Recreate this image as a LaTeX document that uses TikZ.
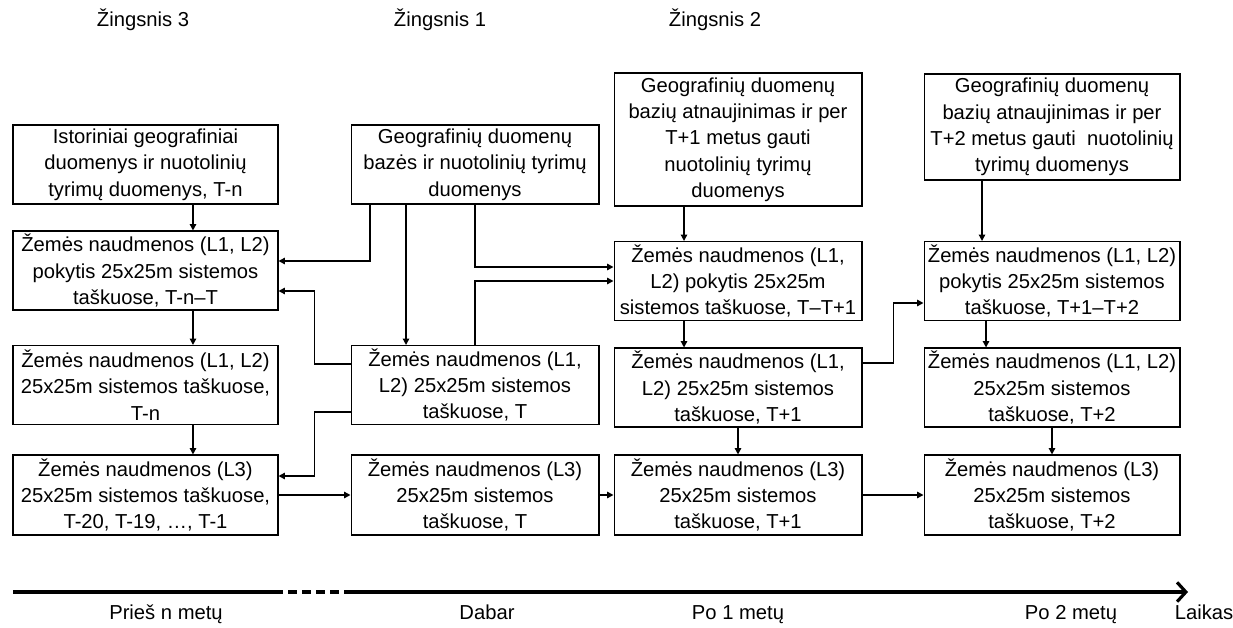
\documentclass[tikz,border=0pt]{standalone}
\usepackage{fontspec}
\setmainfont{Liberation Sans}
\usetikzlibrary{calc,arrows.meta,positioning}
\tikzset{box/.style={draw, line width=0.6pt, rectangle, align=center, inner sep=0pt, minimum height=1.58cm, text=black, font=\fontsize{11.5}{15}\selectfont},
  cA/.style={box, minimum width=5.3cm}, cB/.style={box, minimum width=4.96cm}, cC/.style={box, minimum width=4.96cm}, cD/.style={box, minimum width=5.12cm},
  arr/.style={line width=0.8pt, -{Triangle[length=3.6pt,width=3.6pt]}},
  lbl/.style={font=\fontsize{11.5}{15}\selectfont, inner sep=0pt, anchor=base},
  timeline/.style={line width=1.8pt}}

\begin{document}
\begin{tikzpicture}[x=0.02cm, y=-0.02cm]
    \useasboundingbox (0,0) rectangle (1233,628);
    \node[lbl] (H3) at (143,27) {Žingsnis 3};
    \node[lbl] (H1) at (440,27) {Žingsnis 1};
    \node[lbl] (H2) at (715,27) {Žingsnis 2};

    \node[cA] (A1) at (145.5,164.5) {Istoriniai geografiniai\\duomenys ir nuotolinių\\tyrimų duomenys, T-n};
    \node[cA] (A2) at (145.5,270.5) {Žemės naudmenos (L1, L2)\\pokytis 25x25m sistemos\\taškuose, T-n–T};
    \node[cA] (A3) at (145.5,385) {Žemės naudmenos (L1, L2)\\25x25m sistemos taškuose,\\T-n};
    \node[cA,minimum height=1.6cm] (A4) at (145.5,495) {Žemės naudmenos (L3)\\25x25m sistemos taškuose,\\T-20, T-19, …, T-1};

    \node[cB] (B1) at (475,164.5) {Geografinių duomenų\\bazės ir nuotolinių tyrimų\\duomenys};
    \node[cB] (B2) at (475,385) {Žemės naudmenos (L1,\\L2) 25x25m sistemos\\taškuose, T};
    \node[cB,minimum height=1.6cm] (B3) at (475,495) {Žemės naudmenos (L3)\\25x25m sistemos\\taškuose, T};

    \node[cC,minimum height=2.66cm] (C1) at (738,139.5) {Geografinių duomenų\\bazių atnaujinimas ir per\\T+1 metus gauti\\nuotolinių tyrimų\\duomenys};
    \node[cC] (C2) at (738,281) {Žemės naudmenos (L1,\\L2) pokytis 25x25m\\sistemos taškuose, T–T+1};
    \node[cC] (C3) at (738,387.5) {Žemės naudmenos (L1,\\L2) 25x25m sistemos\\taškuose, T+1};
    \node[cC,minimum height=1.6cm] (C4) at (738,495) {Žemės naudmenos (L3)\\25x25m sistemos\\taškuose, T+1};

    \node[cD,minimum height=2.12cm] (D1) at (1052,127) {Geografinių duomenų\\bazių atnaujinimas ir per\\T+2 metus gauti\ \ nuotolinių\\tyrimų duomenys};
    \node[cD] (D2) at (1052,281) {Žemės naudmenos (L1, L2)\\pokytis 25x25m sistemos\\taškuose, T+1–T+2};
    \node[cD] (D3) at (1052,387.5) {Žemės naudmenos (L1, L2)\\25x25m sistemos\\taškuose, T+2};
    \node[cD,minimum height=1.6cm] (D4) at (1052,495) {Žemės naudmenos (L3)\\25x25m sistemos\\taškuose, T+2};

    \draw[arr] ([xshift=0.95cm]A1.south) -- ([xshift=0.95cm]A2.north);
    \draw[arr] ([xshift=0.95cm]A2.south) -- ([xshift=0.95cm]A3.north);
    \draw[arr] ([xshift=0.95cm]A3.south) -- ([xshift=0.95cm]A4.north);
    \draw[arr] ([xshift=-2.1cm]B1.south) |- ([yshift=0.19cm]A2.east);
    \draw[arr] ([yshift=0.42cm]B2.west) -- ++(-36,0) |- ([yshift=-0.41cm]A2.east);
    \draw[arr] ([yshift=-0.54cm]B2.west) -- ++(-36,0) |- ([yshift=0.38cm]A4.east);
    \draw[arr] ([xshift=-1.38cm]B1.south) -- ([xshift=-1.38cm]B2.north);
    \draw[arr] (B1.south) |- ([yshift=0.28cm]C2.west);
    \draw[arr] (B2.north) |- (C2.west);
    \draw[arr] (A4.east) -- (B3.west);
    \draw[arr] (B3.east) -- (C4.west);
    \draw[arr] (C4.east) -- (D4.west);
    \draw[arr] ([xshift=-1.08cm]C1.south) -- ([xshift=-1.08cm]C2.north);
    \draw[arr] ([xshift=-1.08cm]C2.south) -- ([xshift=-1.08cm]C3.north);
    \draw[arr] (C3.south) -- (C4.north);
    \draw[arr] ([yshift=0.49cm]C3.east) -- ++(31,0) |- ([yshift=-0.44cm]D2.west);
    \draw[arr] ([xshift=-1.4cm]D1.south) -- ([xshift=-1.4cm]D2.north);
    \draw[arr] ([xshift=-1.32cm]D2.south) -- ([xshift=-1.32cm]D3.north);
    \draw[arr] (D3.south) -- (D4.north);

    \coordinate (t0) at (13,592);
    \coordinate (t1) at (283,592);
    \coordinate (t2) at (345,592);
    \coordinate (t3) at (1188,592);
    \draw[timeline] (t0) -- (t1);
    \draw[timeline, dash pattern=on 5pt off 3pt, dash phase=5pt] (t1) -- (t2);
    \draw[timeline, -{Straight Barb[length=5pt,width=11pt]}] (t2) -- (t3);
    \node[lbl] (P0) at (166,619) {Prieš n metų};
    \node[lbl] (P1) at (487,619) {Dabar};
    \node[lbl] (P2) at (738,619) {Po 1 metų};
    \node[lbl] (P3) at (1071,619) {Po 2 metų};
    \node[lbl] (P4) at (1204,619) {Laikas};
\end{tikzpicture}
\end{document}
